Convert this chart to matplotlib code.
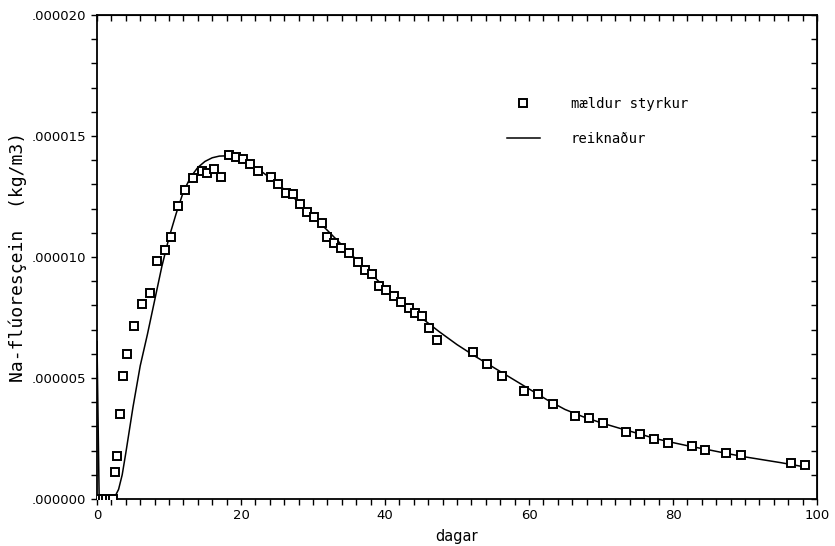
import numpy as np
import matplotlib.pyplot as plt
from matplotlib.ticker import MultipleLocator, FuncFormatter

# measured concentration (units of 1e-6 kg/m3) vs days
dagar_maelt = [0.3, 0.8, 1.3, 1.8, 2.2,
               2.5, 2.8, 3.2, 3.6, 4.2, 5.2, 6.3, 7.3, 8.4, 9.4,
               10.3, 11.2, 12.2, 13.3, 14.6, 15.3, 16.3, 17.2, 18.4, 19.3,
               20.3, 21.2, 22.3, 24.2, 25.2, 26.2, 27.2, 28.2, 29.1, 30.1,
               31.2, 32.0, 32.9, 33.9, 35.0, 36.2, 37.2, 38.2, 39.2, 40.2,
               41.3, 42.2, 43.3, 44.2, 45.2, 46.1, 47.2,
               52.2, 54.2, 56.2, 59.3, 61.2, 63.3, 66.4, 68.4, 70.3, 73.5,
               75.4, 77.4, 79.3, 82.6, 84.4, 87.4, 89.5, 96.4, 98.4]
styrkur_maelt = [0, 0, 0, 0, 0,
                 1.13, 1.79, 3.51, 5.08, 5.99, 7.15, 8.06, 8.5, 9.85, 10.3,
                 10.84, 12.1, 12.77, 13.28, 13.54, 13.47, 13.62, 13.32, 14.21, 14.15,
                 14.06, 13.84, 13.57, 13.29, 13.0, 12.66, 12.6, 12.2, 11.87, 11.65,
                 11.42, 10.81, 10.56, 10.36, 10.15, 9.78, 9.46, 9.3, 8.82, 8.65,
                 8.39, 8.14, 7.88, 7.7, 7.55, 7.08, 6.57,
                 6.06, 5.59, 5.1, 4.46, 4.35, 3.93, 3.43, 3.33, 3.13, 2.77,
                 2.67, 2.48, 2.33, 2.2, 2.01, 1.9, 1.8, 1.49, 1.4]

# computed curve
dagar_reikn = [0, 0.3, 2.2, 2.5, 3, 3.5, 4, 5, 6, 7, 8, 9, 10, 11, 12, 13,
               14, 15, 16, 17, 18, 19, 20, 21, 22, 23, 25, 27.5, 30, 32.5,
               35, 37.5, 40, 42.5, 45, 47.5, 50, 52.5, 55, 57.5, 60, 62.5,
               65, 67.5, 70, 72.5, 75, 77.5, 80, 82.5, 85, 87.5, 90, 92.5,
               95, 98.4]
styrkur_reikn = [6.5, 0, 0, 0.1, 0.4, 1.0, 1.9, 3.8, 5.5, 6.8, 8.2, 9.6,
                 10.8, 11.8, 12.7, 13.3, 13.7, 13.95, 14.1, 14.17, 14.18,
                 14.15, 14.05, 13.9, 13.7, 13.5, 13.05, 12.4, 11.7, 10.95,
                 10.2, 9.45, 8.75, 8.1, 7.5, 6.92, 6.38, 5.9, 5.45, 5.0,
                 4.55, 4.1, 3.7, 3.4, 3.15, 2.93, 2.72, 2.5, 2.33, 2.17,
                 2.03, 1.88, 1.74, 1.62, 1.5, 1.32]

x_maelt = np.array(dagar_maelt)
y_maelt = np.array(styrkur_maelt) * 1e-6
x_reikn = np.array(dagar_reikn)
y_reikn = np.array(styrkur_reikn) * 1e-6

fig = plt.figure(figsize=(8.35, 5.46), dpi=100)
ax = fig.add_axes([97 / 835, 47 / 546, 720 / 835, 484 / 546])

ax.plot(x_maelt, y_maelt, 's', ms=5.5, mfc='white', mec='black', mew=1.4,
        linestyle='none', label='mældur styrkur', zorder=3)
ax.plot(x_reikn, y_reikn, '-', color='black', lw=1.1, label='reiknaður')

ax.set_xlim(0, 100)
ax.set_ylim(0, 0.00002)

ax.xaxis.set_major_locator(MultipleLocator(20))
ax.xaxis.set_minor_locator(MultipleLocator(2))
ax.yaxis.set_major_locator(MultipleLocator(0.000005))
ax.yaxis.set_minor_locator(MultipleLocator(0.000001))
ax.yaxis.set_major_formatter(FuncFormatter(lambda v, p: ('%.6f' % v)[1:]))

ax.tick_params(which='both', direction='out', length=4.5, width=1,
               labelsize=9.5, top=False, right=False)
ax.tick_params(axis='x', pad=3)

# top and right ticks point into the plot
top = ax.secondary_xaxis('top')
top.xaxis.set_major_locator(MultipleLocator(20))
top.xaxis.set_minor_locator(MultipleLocator(2))
top.tick_params(which='both', direction='in', length=4.5, width=1, labeltop=False)
right = ax.secondary_yaxis('right')
right.yaxis.set_major_locator(MultipleLocator(0.000005))
right.yaxis.set_minor_locator(MultipleLocator(0.000001))
right.tick_params(which='both', direction='in', length=4.5, width=1, labelright=False)

for s in ax.spines.values():
    s.set_linewidth(1.3)

ax.set_xlabel('dagar', fontsize=10.5, labelpad=5)
ax.set_ylabel('Na-flúoresçein  (kg/m3)', fontsize=13,
              family='DejaVu Sans Mono', labelpad=3)

ax.legend(loc='upper left', bbox_to_anchor=(0.569, 0.831), frameon=False,
          prop={'family': 'DejaVu Sans Mono', 'size': 10},
          borderpad=0, borderaxespad=0, handlelength=2.4, handletextpad=2.2,
          labelspacing=1.5, numpoints=1)

plt.savefig('out.png', dpi=100)
